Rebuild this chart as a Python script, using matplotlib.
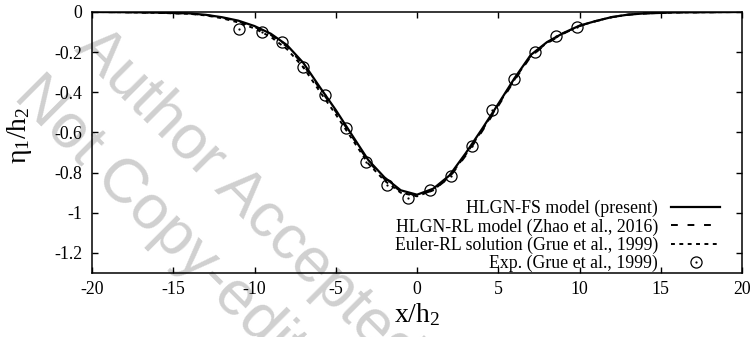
import matplotlib
matplotlib.use("Agg")
import matplotlib.pyplot as plt

plt.rcParams['font.family'] = ['Liberation Serif', 'DejaVu Serif']
plt.rcParams['mathtext.fontset'] = 'custom'
plt.rcParams['mathtext.rm'] = 'Liberation Serif'

# model curves
x_model = [-20, -18, -16, -14, -13, -12, -11, -10, -9, -8, -7, -6, -5, -4, -3, -2, -1, 0,
           1, 2, 3, 4, 5, 6, 7, 8, 9, 10, 11, 12, 13, 14, 16, 18, 20]
hlgn_fs = [0.0, -0.001, -0.003, -0.007, -0.014, -0.026, -0.043, -0.070, -0.108, -0.165,
           -0.253, -0.372, -0.488, -0.613, -0.737, -0.824, -0.888, -0.910,
           -0.880, -0.814, -0.703, -0.583, -0.458, -0.330, -0.214, -0.150, -0.105,
           -0.068, -0.045, -0.025, -0.013, -0.007, -0.002, -0.001, 0.0]
hlgn_rl = [0.0, -0.001, -0.003, -0.008, -0.015, -0.028, -0.046, -0.074, -0.114, -0.172,
           -0.262, -0.380, -0.496, -0.620, -0.744, -0.832, -0.894, -0.915,
           -0.888, -0.824, -0.715, -0.595, -0.468, -0.340, -0.222, -0.156, -0.108,
           -0.070, -0.046, -0.026, -0.014, -0.007, -0.002, -0.001, 0.0]
euler_rl = [0.0, -0.001, -0.004, -0.009, -0.017, -0.031, -0.052, -0.082, -0.124, -0.185,
            -0.275, -0.394, -0.510, -0.632, -0.755, -0.840, -0.900, -0.918,
            -0.888, -0.820, -0.710, -0.590, -0.462, -0.335, -0.218, -0.153, -0.106,
            -0.069, -0.045, -0.025, -0.013, -0.007, -0.002, -0.001, 0.0]

# experiment (Grue et al., 1999)
exp_x = [-10.95, -9.54, -8.33, -7.04, -5.66, -4.37, -3.14, -1.87, -0.54, 0.80,
         2.07, 3.36, 4.63, 5.97, 7.26, 8.55, 9.87]
exp_y = [-0.085, -0.100, -0.148, -0.273, -0.414, -0.577, -0.746, -0.862, -0.924, -0.887,
         -0.816, -0.666, -0.489, -0.334, -0.198, -0.118, -0.073]

x_ticks = [-20, -15, -10, -5, 0, 5, 10, 15, 20]
y_ticks = [0, -0.2, -0.4, -0.6, -0.8, -1, -1.2]
y_tick_labels = ['0', '-0.2', '-0.4', '-0.6', '-0.8', '-1', '-1.2']

fig = plt.figure(figsize=(7.54, 3.37), dpi=100)
ax = fig.add_axes([92 / 754, 64 / 337, 650 / 754, 261 / 337])
ax.patch.set_visible(False)

# watermark behind the plot
wm = dict(fontfamily='Liberation Sans', color='#d0d0d0', fontsize=45, rotation=-45,
          rotation_mode='anchor', ha='left', va='baseline', zorder=-1)
fig.text(73 / 754, 1 - 50 / 337, 'Author Accepted Manuscript', **wm)
fig.text(12 / 754, 1 - 98 / 337, 'Not Copy-edited', **wm)

l_eu, = ax.plot(x_model, euler_rl, color='black', lw=1.4, dashes=(2, 2.3))
l_rl, = ax.plot(x_model, hlgn_rl, color='black', lw=1.4, dashes=(3.5, 5))
l_fs, = ax.plot(x_model, hlgn_fs, color='black', lw=1.6)
p_c, = ax.plot(exp_x, exp_y, ls='none', marker='o', ms=8, mfc='none', mec='black', mew=0.9)
p_d, = ax.plot(exp_x, exp_y, ls='none', marker='o', ms=1.6, mfc='black', mec='black', mew=0)

ax.set_xlim(-20, 20)
ax.set_ylim(-1.3, 0)
ax.set_xticks(x_ticks)
ax.set_xticklabels([str(v) for v in x_ticks])
ax.set_yticks(y_ticks)
ax.set_yticklabels(y_tick_labels)
ax.tick_params(direction='in', length=4, width=1, top=True, right=True, labelsize=12.8)
ax.tick_params(axis='x', pad=6)
ax.tick_params(axis='y', pad=7)
for s in ax.spines.values():
    s.set_linewidth(1.1)

ax.set_xlabel(r'$\mathregular{x/h_2}$', fontsize=20, labelpad=2)
ax.set_ylabel(r'$\mathregular{η_1/h_2}$', fontsize=20)
ax.yaxis.set_label_coords(-0.09, 0.53)

ax.legend([l_fs, l_rl, l_eu, (p_c, p_d)],
          ['HLGN-FS model (present)', 'HLGN-RL model (Zhao et al., 2016)',
           'Euler-RL solution (Grue et al., 1999)', 'Exp. (Grue et al., 1999)'],
          loc='lower right', bbox_to_anchor=(0.986, -0.045), frameon=False, markerfirst=False,
          fontsize=12.8, handlelength=2.8, handletextpad=0.7, labelspacing=0.06,
          borderaxespad=0.3)

fig.savefig('out.png', dpi=100)
